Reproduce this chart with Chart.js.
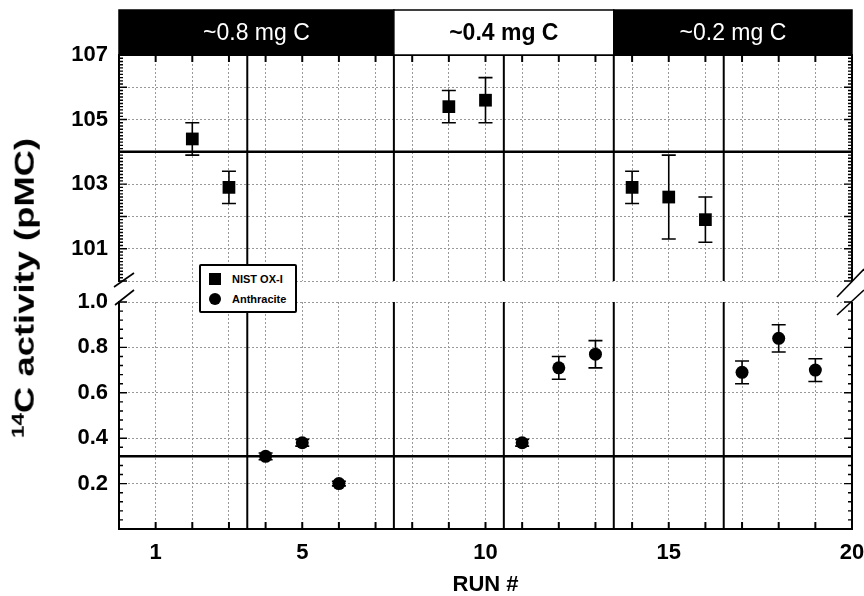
<!DOCTYPE html>
<html>
<head>
<meta charset="utf-8">
<script src="https://cdn.jsdelivr.net/npm/chart.js@4.4.0/dist/chart.umd.min.js"></script>
<style>
  body { margin: 0; background: #fff; }
  #wrap { position: relative; width: 864px; height: 596px; overflow: hidden; font-family: "Liberation Sans", Arial, sans-serif; }
  #topCv { position: absolute; left: 0; top: 0; }
  #botCv { position: absolute; left: 0; top: 290px; }
  #ytitle { position: absolute; left: 24px; top: 288px; transform: translate(-50%, -50%) rotate(-90deg) scaleX(1.3);
            font-weight: bold; font-size: 28px; line-height: 1; white-space: nowrap; color: #000; }
  #ytitle sup { font-size: 0.62em; vertical-align: 0.55em; }
  #legend { position: absolute; left: 199px; top: 264px; width: 94px; height: 45px; border: 2px solid #000; border-radius: 2px;
            background: #fff; font-weight: bold; font-size: 11px; }
  #legend .row { position: absolute; left: 31px; line-height: 14px; white-space: nowrap; }
  #legend .mk { position: absolute; left: -23px; top: 1px; width: 12px; height: 12px; background: #000; }
  #legend .ci { border-radius: 50%; }
  #breaks { position: absolute; left: 0; top: 0; }
</style>
</head>
<body>
<div id="wrap">
  <canvas id="topCv" width="864" height="290"></canvas>
  <canvas id="botCv" width="864" height="306"></canvas>
  <div id="ytitle"><sup>14</sup>C activity (pMC)</div>
  <div id="legend"></div>
  <svg id="breaks" width="864" height="596">
    <g stroke="#000" stroke-width="1.6">
      <line x1="114" y1="287" x2="134" y2="273"/>
      <line x1="115" y1="305" x2="134" y2="290"/>
      <line x1="837" y1="297" x2="864" y2="269"/>
      <line x1="837" y1="315" x2="864" y2="290"/>
    </g>
  </svg>
</div>
<script>
// ---- data ----
const xLabelsShown = [1, 5, 10, 15, 20];
const nistName = 'NIST OX-I';
const nistRun = [2, 3, 9, 10, 14, 15, 16];
const nistPmc = [104.4, 102.9, 105.4, 105.6, 102.9, 102.6, 101.9];
const nistErr = [0.5, 0.5, 0.5, 0.7, 0.5, 1.3, 0.7];
const anthName = 'Anthracite';
const anthRun = [4, 5, 6, 11, 12, 13, 17, 18, 19];
const anthPmc = [0.32, 0.38, 0.20, 0.38, 0.71, 0.77, 0.69, 0.84, 0.70];
const anthErr = [0.015, 0.015, 0.01, 0.015, 0.05, 0.06, 0.05, 0.06, 0.05];
const dividers = [3.5, 7.5, 10.5, 13.5, 16.5];
const refTop = 104;
const refBottom = 0.32;
const groupEdges = [0, 7.5, 13.5, 20];
const groupLabels = ['~0.8 mg C', '~0.4 mg C', '~0.2 mg C'];
const groupDark = [true, false, true];
const topRange = [100, 107];
const botRange = [0, 1];

const FONT = '"Liberation Sans", Arial, sans-serif';
Chart.defaults.font.family = FONT;
Chart.defaults.color = '#000';

// error bars, inward ticks, right frame
const framePlugin = {
  id: 'frame',
  afterDatasetsDraw(chart, args, o) {
    const { ctx, chartArea: a, scales: { x, y } } = chart;
    ctx.save();
    ctx.strokeStyle = '#000';
    ctx.lineWidth = 1.6;
    o.xs.forEach((v, i) => {
      const px = x.getPixelForValue(v);
      const hi = y.getPixelForValue(o.ys[i] + o.errs[i]);
      const lo = y.getPixelForValue(o.ys[i] - o.errs[i]);
      ctx.beginPath();
      ctx.moveTo(px, hi); ctx.lineTo(px, lo);
      ctx.moveTo(px - 7, hi); ctx.lineTo(px + 7, hi);
      ctx.moveTo(px - 7, lo); ctx.lineTo(px + 7, lo);
      ctx.stroke();
    });
    const n = Math.round((y.max - y.min) / o.minor);
    const per = Math.round(o.major / o.minor);
    ctx.lineWidth = 1.4;
    for (let k = 0; k <= n; k++) {
      const py = y.getPixelForValue(y.min + k * o.minor);
      const len = k % per === 0 ? 8 : 4;
      ctx.beginPath();
      ctx.moveTo(a.left, py); ctx.lineTo(a.left + len, py);
      ctx.moveTo(a.right, py); ctx.lineTo(a.right - len, py);
      ctx.stroke();
    }
    ctx.lineWidth = 2;
    const ey = o.xEdge === 'top' ? a.top : a.bottom;
    const dir = o.xEdge === 'top' ? 1 : -1;
    for (let v = x.min; v <= x.max; v++) {
      const px = x.getPixelForValue(v);
      ctx.beginPath(); ctx.moveTo(px, ey); ctx.lineTo(px, ey + dir * 7); ctx.stroke();
    }
    ctx.beginPath(); ctx.moveTo(a.right, a.top); ctx.lineTo(a.right, a.bottom); ctx.stroke();
    ctx.restore();
  }
};

// sample-size bars above the top panel
const headerPlugin = {
  id: 'header',
  afterDraw(chart) {
    const { ctx, chartArea: a, scales: { x } } = chart;
    ctx.save();
    groupLabels.forEach((lab, i) => {
      const l = x.getPixelForValue(groupEdges[i]);
      const r = x.getPixelForValue(groupEdges[i + 1]);
      ctx.fillStyle = groupDark[i] ? '#000' : '#fff';
      ctx.fillRect(l, 10, r - l, a.top - 10);
      ctx.strokeStyle = '#000';
      ctx.lineWidth = 1.5;
      ctx.strokeRect(l, 10, r - l, a.top - 10);
      ctx.fillStyle = groupDark[i] ? '#fff' : '#000';
      ctx.font = (groupDark[i] ? '' : 'bold ') + '23px ' + FONT;
      ctx.textAlign = 'center';
      ctx.textBaseline = 'middle';
      ctx.fillText(lab, (l + r) / 2, 34);
    });
    ctx.restore();
  }
};

const gridOpts = { color: '#999', lineWidth: 1, drawTicks: false };
const borderOpts = { display: true, color: '#000', width: 2, dash: [2, 2] };
const tickFont = { size: 22, weight: 'bold' };

function panel(id, cfg) {
  const [ymin, ymax] = cfg.range;
  const datasets = [
    { label: cfg.name, data: cfg.xs.map((x, i) => ({ x, y: cfg.ys[i] })), pointStyle: cfg.style,
      pointRadius: cfg.radius, backgroundColor: '#000', borderColor: '#000', borderWidth: 0, showLine: false, order: 0 },
    ...dividers.map(d => ({ type: 'line', data: [{ x: d, y: ymin }, { x: d, y: ymax }], borderColor: '#000',
      borderWidth: 2, pointRadius: 0, fill: false, order: 2 })),
    { type: 'line', data: [{ x: 0, y: cfg.ref }, { x: 20, y: cfg.ref }], borderColor: '#000',
      borderWidth: 2.5, pointRadius: 0, fill: false, order: 1 }
  ];
  const isTop = cfg.xEdge === 'top';
  return new Chart(document.getElementById(id), {
    type: 'scatter',
    data: { datasets },
    plugins: isTop ? [framePlugin, headerPlugin] : [framePlugin],
    options: {
      responsive: false,
      animation: false,
      layout: { padding: cfg.padding },
      plugins: {
        legend: { display: false },
        tooltip: { enabled: false },
        frame: { xs: cfg.xs, ys: cfg.ys, errs: cfg.errs, minor: cfg.minor, major: cfg.step, xEdge: cfg.xEdge }
      },
      scales: {
        x: {
          type: 'linear', position: cfg.xEdge, min: 0, max: 20,
          grid: gridOpts, border: borderOpts,
          ticks: isTop ? { display: false, stepSize: 1 } : {
            stepSize: 1, autoSkip: false, maxRotation: 0, padding: 11, font: tickFont,
            callback: v => xLabelsShown.includes(v) ? v : ''
          },
          title: { display: !isTop, text: 'RUN #', font: { size: 22, weight: 'bold', lineHeight: 1 }, padding: { top: 0, bottom: 0 } },
          afterFit(s) { s.height = isTop ? 0 : 67; s.paddingLeft = 0; s.paddingRight = 0; }
        },
        y: {
          min: ymin, max: ymax,
          grid: gridOpts, border: borderOpts,
          ticks: { stepSize: cfg.step, padding: 11, font: tickFont, callback: cfg.label },
          afterFit(s) { s.width = 119; s.paddingTop = 0; s.paddingBottom = 0; }
        }
      }
    }
  });
}

panel('topCv', {
  name: nistName, xs: nistRun, ys: nistPmc, errs: nistErr, style: 'rect', radius: 9,
  range: topRange, ref: refTop, step: 1, minor: 0.1, xEdge: 'top',
  padding: { top: 55, right: 12, bottom: 8, left: 0 },
  label: v => (v % 2 === 1 ? v : '')
});

panel('botCv', {
  name: anthName, xs: anthRun, ys: anthPmc, errs: anthErr, style: 'circle', radius: 6.5,
  range: botRange, ref: refBottom, step: 0.2, minor: 0.04, xEdge: 'bottom',
  padding: { top: 12, right: 12, bottom: 0, left: 0 },
  label: v => (v === 0 ? '' : v.toFixed(1))
});

// legend box built from the series names
const lg = document.getElementById('legend');
[[nistName, 'mk', 6], [anthName, 'mk ci', 26]].forEach(([name, cls, top]) => {
  const row = document.createElement('div');
  row.className = 'row';
  row.style.top = top + 'px';
  row.innerHTML = '<span class="' + cls + '"></span>' + name;
  lg.appendChild(row);
});
</script>
</body>
</html>
